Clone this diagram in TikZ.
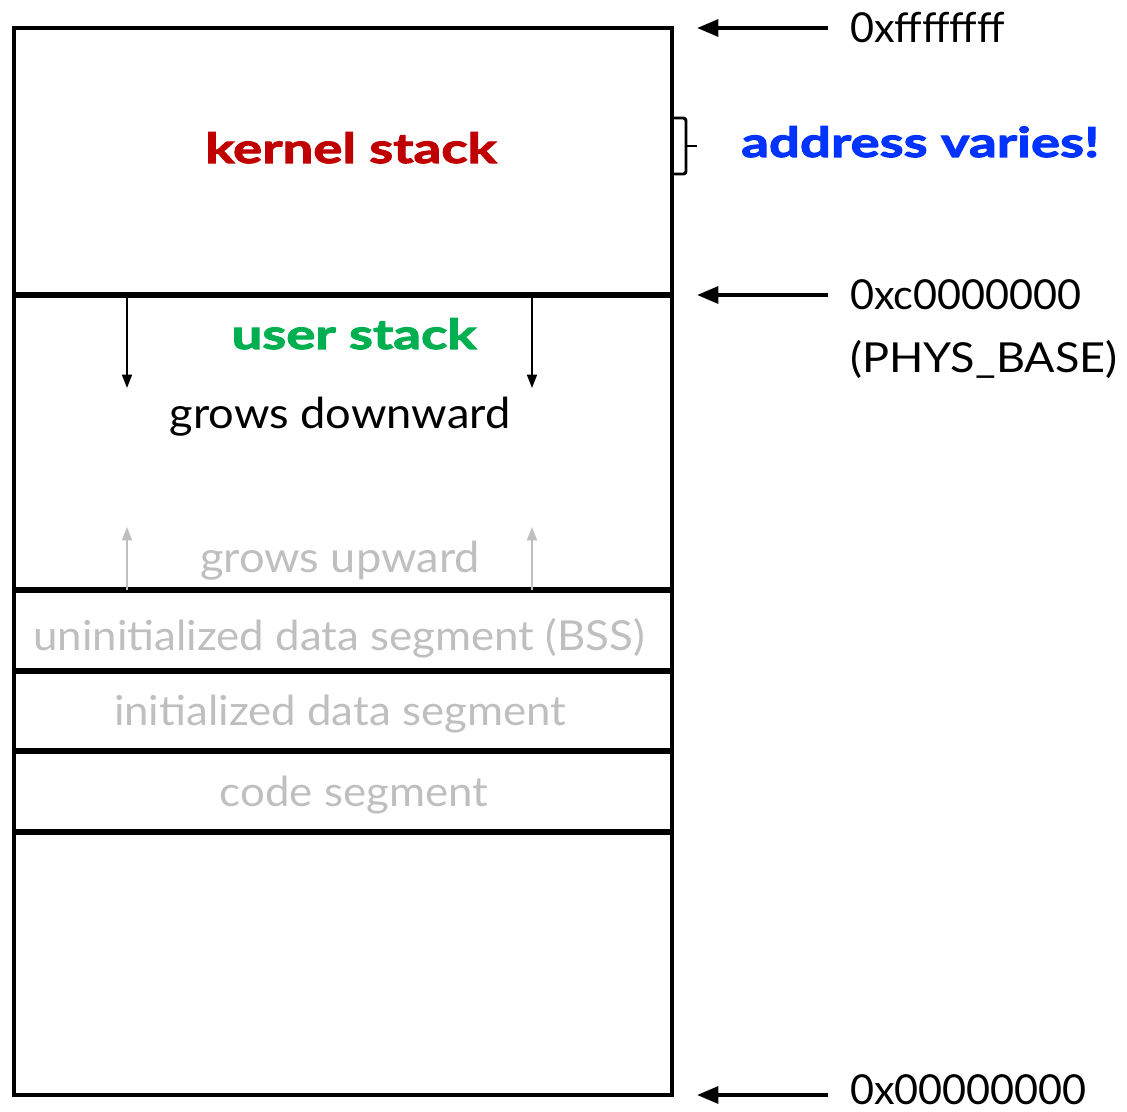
\documentclass[tikz,border=0pt]{standalone}
\usepackage{fontspec}
\setmainfont{Lato}
\newfontfamily\heavy[FakeStretch=1.32,FakeBold=2.6]{Lato Bold}
\newfontfamily\inner[FakeStretch=1.06]{Lato}
\newfontfamily\physfont[FakeStretch=1.09]{Lato}
\usetikzlibrary{arrows.meta}
\definecolor{kred}{RGB}{192,0,0}
\definecolor{ugreen}{RGB}{0,176,80}
\definecolor{ablue}{RGB}{0,51,255}
\definecolor{lgray}{RGB}{191,191,191}
\tikzset{
  frame/.style={line width=3.5pt},
  sep/.style={line width=4pt},
  addrarrow/.style={line width=3pt,-{Triangle[length=16pt,width=12.5pt]}},
  downarrow/.style={line width=1.3pt,-{Triangle[length=10pt,width=7.5pt]}},
  uparrow/.style={line width=1.3pt,lgray,-{Triangle[length=10pt,width=7.5pt]}},
  addr/.style={anchor=base west,inner sep=0pt,font=\fontsize{31}{36}\selectfont},
  innertext/.style={anchor=base,inner sep=0pt,font=\inner\fontsize{32}{36}\selectfont},
  seglabel/.style={anchor=base,inner sep=0pt,lgray,font=\inner\fontsize{31}{36}\selectfont},
  bigbold/.style={anchor=base,inner sep=0pt,font=\heavy\fontsize{31}{36}\selectfont},
}
\begin{document}
\begin{tikzpicture}[x=0.75pt,y=-0.75pt]
\useasboundingbox (0,0) rectangle (1127,1112);
% memory frame
\draw[frame] (14,28) rectangle (672,1095);
\draw[sep] (14,295) -- (672,295);
\draw[sep] (14,590) -- (672,590);
\draw[sep] (14,671) -- (672,671);
\draw[sep] (14,751) -- (672,751);
\draw[sep] (14,832) -- (672,832);
% labels inside
\node[bigbold,kred] (kernel) at (351,163) {kernel stack};
\node[bigbold,ugreen] (user) at (354,349) {user stack};
\node[innertext] (down) at (340,428) {grows downward};
\node[innertext,lgray] (up) at (340,572) {grows upward};
\node[seglabel] (bss) at (339,650) {uninitialized data segment (BSS)};
\node[seglabel] (init) at (340,725) {initialized data segment};
\node[seglabel] (code) at (354,806) {code segment};
% growth arrows
\coordinate (d1s) at (127,297); \coordinate (d1e) at (127,388);
\coordinate (d2s) at (532,297); \coordinate (d2e) at (532,388);
\draw[downarrow] (d1s) -- (d1e);
\draw[downarrow] (d2s) -- (d2e);
\coordinate (u1s) at (127,590); \coordinate (u1e) at (127,527);
\coordinate (u2s) at (532,590); \coordinate (u2e) at (532,527);
\draw[uparrow] (u1s) -- (u1e);
\draw[uparrow] (u2s) -- (u2e);
% address labels
\node[addr] (ffff) at (850,43) {0xffffffff};
\node[addr] (c000) at (850,310) {0xc0000000};
\node[addr,font=\physfont\fontsize{31}{36}\selectfont] (phys) at (850,372) {(PHYS\_BASE)};
\node[addr] (zero) at (850,1104) {0x00000000};
\coordinate (a1) at (828,28);  \coordinate (t1) at (697,28);
\coordinate (a2) at (828,295); \coordinate (t2) at (697,295);
\coordinate (a3) at (828,1095); \coordinate (t3) at (697,1095);
\draw[addrarrow] (a1) -- (t1);
\draw[addrarrow] (a2) -- (t2);
\draw[addrarrow] (a3) -- (t3);
% bracket
\draw[line width=2.2pt,rounded corners=2pt] (672,118) -- (686,118) -- (686,174) -- (672,174);
\draw[line width=2.2pt] (686,146) -- (697,146);
\node[bigbold,ablue,anchor=base west] (varies) at (741,157) {address varies!};
\end{tikzpicture}
\end{document}
